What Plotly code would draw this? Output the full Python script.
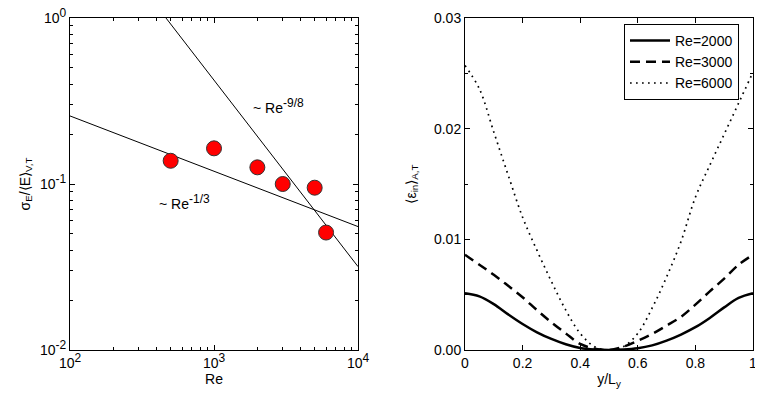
import plotly.graph_objects as go
from plotly.subplots import make_subplots

# left panel: sigma_E / <E> vs Re
re_pts = [500, 1000, 2000, 3000, 5000, 6000]
sigma_pts = [0.138, 0.164, 0.126, 0.100, 0.095, 0.051]

fit13_re = [100, 10000]
fit13_val = [0.257, 0.0554]
fit98_re = [464, 10000]
fit98_val = [1.0, 0.0318]

# right panel: <eps_in>_{A,T} vs y/L_y
y_pos = [0, 0.05, 0.1, 0.15, 0.2, 0.25, 0.3, 0.35, 0.4, 0.45, 0.5,
         0.55, 0.6, 0.65, 0.7, 0.75, 0.8, 0.85, 0.9, 0.95, 1.0]
eps_2000 = [0.00513, 0.00485, 0.00415, 0.00322, 0.00235, 0.00160, 0.00100, 0.00052, 0.00018, 0.00004, 0.0,
            0.00004, 0.00016, 0.00042, 0.00085, 0.00140, 0.00206, 0.00290, 0.00385, 0.00470, 0.00513]
eps_3000 = [0.0086, 0.0077, 0.0068, 0.0058, 0.00477, 0.0036, 0.0025, 0.0015, 0.00055, 0.00012, 0.0,
            0.0003, 0.00084, 0.00145, 0.0022, 0.0030, 0.0041, 0.0053, 0.00645, 0.0077, 0.0086]
eps_6000 = [0.0257, 0.0236, 0.0197, 0.0158, 0.0120, 0.0090, 0.0062, 0.0036, 0.0015, 0.0003, 0.0,
            0.0003, 0.0015, 0.0038, 0.0066, 0.0098, 0.0138, 0.0167, 0.0195, 0.0223, 0.0251]

FONT = "Liberation Sans, Arial, sans-serif"


def sup(t):
    return '<sup><span style="font-size:12px">' + t + '</span></sup>'


fig = make_subplots(rows=1, cols=2, horizontal_spacing=0.1566)

fig.add_trace(go.Scatter(x=fit13_re, y=fit13_val, mode="lines",
                         line=dict(color="black", width=1), showlegend=False), 1, 1)
fig.add_trace(go.Scatter(x=fit98_re, y=fit98_val, mode="lines",
                         line=dict(color="black", width=1), showlegend=False), 1, 1)
fig.add_trace(go.Scatter(x=re_pts, y=sigma_pts, mode="markers",
                         marker=dict(size=15, color="#ff0000", line=dict(color="#333333", width=1)),
                         showlegend=False), 1, 1)

fig.add_trace(go.Scatter(x=y_pos, y=eps_2000, mode="lines", name="Re=2000", line_shape="spline",
                         line=dict(color="black", width=2.5)), 1, 2)
fig.add_trace(go.Scatter(x=y_pos, y=eps_3000, mode="lines", name="Re=3000", line_shape="spline",
                         line=dict(color="black", width=2.5, dash="10px,6px")), 1, 2)
fig.add_trace(go.Scatter(x=y_pos, y=eps_6000, mode="lines", name="Re=6000", line_shape="spline",
                         line=dict(color="black", width=1.7, dash="1.7px,4.3px")), 1, 2)

minor_log_x = [m * 10 ** d for d in (2, 3) for m in range(2, 10)]
minor_log_y = [m * 10 ** d for d in (-2, -1) for m in range(2, 10)]

common = dict(showline=True, linecolor="black", linewidth=1, mirror="ticks", ticks="inside",
              ticklen=5, tickcolor="black", showgrid=False, zeroline=False, automargin=False,
              ticklabeloverflow="allow", tickfont=dict(size=14, color="black"))

fig.update_xaxes(type="log", range=[2, 4], tickvals=[100, 1000, 10000],
                 ticktext=["10" + sup("2"), "10" + sup("3"), "10" + sup("4")],
                 minor=dict(tickvals=minor_log_x, ticks="inside", ticklen=3, tickcolor="black"),
                 title=dict(text="Re", font=dict(size=14), standoff=4), row=1, col=1, **common)
fig.update_yaxes(type="log", range=[-2, 0], tickvals=[0.01, 0.1, 1],
                 ticktext=["10" + sup("-2"), "10" + sup("-1"), "10" + sup("0")],
                 minor=dict(tickvals=minor_log_y, ticks="inside", ticklen=3, tickcolor="black"),
                 title=dict(text="σ<sub>E</sub>/⟨E⟩<sub>V,T</sub>", font=dict(size=14), standoff=6),
                 row=1, col=1, **common)

fig.update_xaxes(range=[0, 1], tickvals=[0, 0.2, 0.4, 0.6, 0.8, 1],
                 ticktext=["0", "0.2", "0.4", "0.6", "0.8", "1"],
                 title=dict(text="y/L<sub>y</sub>", font=dict(size=14), standoff=4), row=1, col=2, **common)
fig.update_yaxes(range=[0, 0.03], tickvals=[0, 0.01, 0.02, 0.03],
                 ticktext=["0.00", "0.01", "0.02", "0.03"],
                 minor=dict(dtick=0.005, ticks="inside", ticklen=3, tickcolor="black"),
                 title=dict(text="⟨ε<sub>in</sub>⟩<sub>A,T</sub>", font=dict(size=14), standoff=14),
                 row=1, col=2, **common)

fig.add_annotation(text="~ Re" + sup("-9/8"), xref="x domain", yref="y domain", x=0.627, y=0.735,
                   xanchor="left", yanchor="middle", showarrow=False, font=dict(size=14, color="black"))
fig.add_annotation(text="~ Re" + sup("-1/3"), xref="x domain", yref="y domain", x=0.301, y=0.446,
                   xanchor="left", yanchor="middle", showarrow=False, font=dict(size=14, color="black"))

# page body adds an 8px offset, so the figure is drawn 8px smaller
fig.update_layout(
    width=755, height=388,
    margin=dict(l=62, r=10, t=10, b=46),
    paper_bgcolor="white", plot_bgcolor="white",
    font=dict(family=FONT, size=14, color="black"),
    legend=dict(x=0.9795, y=0.982, xanchor="right", yanchor="top", bgcolor="white",
                bordercolor="black", borderwidth=1, font=dict(size=14),
                tracegroupgap=0, itemwidth=40),
)

fig.write_html("out.html")
